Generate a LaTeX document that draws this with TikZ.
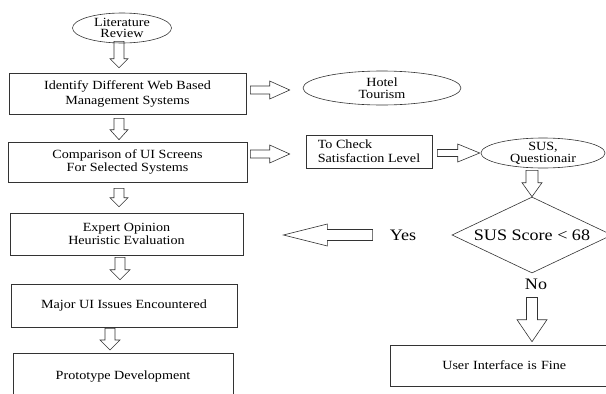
\documentclass[tikz,border=0pt]{standalone}
\usepackage{fontspec}
\setmainfont{Liberation Serif}[FakeStretch=1.13]
\usetikzlibrary{calc, shapes.geometric}

\tikzset{
  base/.style={draw=black!80, line width=0.6pt, text=black, align=center, inner sep=0pt,
    font=\fontsize{12.5}{13}\selectfont},
  procbox/.style={base, rectangle},
  oval/.style={base, ellipse},
  decision/.style={base, diamond, aspect=2.1, font=\fontsize{16}{18}\selectfont},
  answer/.style={text=black, inner sep=0pt, font=\fontsize{16}{18}\selectfont},
  arrowline/.style={draw=black!80, line width=0.6pt, line join=miter}
}

% hollow block arrow: start, end, shaft half width, head half width, head length
\newcommand{\blockarrow}[5]{%
  \coordinate (bas) at #1;
  \coordinate (bae) at #2;
  \coordinate (ban) at ($(bae)!#5pt!(bas)$);
  \draw[arrowline] ($(bas)!#3pt!90:(bae)$) -- ($(ban)!#3pt!90:(bae)$) -- ($(ban)!#4pt!90:(bae)$)
    -- (bae) -- ($(ban)!#4pt!-90:(bae)$) -- ($(ban)!#3pt!-90:(bae)$) -- ($(bas)!#3pt!-90:(bae)$) -- cycle;
}

\begin{document}
\begin{tikzpicture}[x=1pt, y=-1pt]
\useasboundingbox (0,0) rectangle (606,394);
\clip (0,0) rectangle (606,394);
% Left column
\node[oval, minimum width=99, minimum height=30, font=\fontsize{12.5}{11}\selectfont] (lit) at (122,28) {Literature\\Review};
\node[procbox, minimum width=237, minimum height=41, font=\fontsize{12.5}{15}\selectfont] (box1) at (127.5,93.5) {Identify Different Web Based\\Management Systems};
\node[procbox, minimum width=239, minimum height=40] (box2) at (127.5,162) {Comparison of UI Screens\\For Selected Systems};
\node[procbox, minimum width=233, minimum height=42] (box3) at (126.5,234) {Expert Opinion\\Heuristic Evaluation};
\node[procbox, minimum width=226, minimum height=43] (box4) at (124,305.5) {Major UI Issues Encountered};
\node[procbox, minimum width=220, minimum height=46, anchor=north] (box5) at (123,353) {Prototype Development};
% Right side
\node[oval, minimum width=158, minimum height=34, font=\fontsize{12.5}{12}\selectfont] (hotel) at (382,88) {Hotel\\Tourism};
\node[procbox, minimum width=126, minimum height=33, align=left, font=\fontsize{12.5}{14}\selectfont] (check) at (369,151.5) {To Check\\Satisfaction Level};
\node[oval, minimum width=124, minimum height=30, inner sep=-2pt, font=\fontsize{12.5}{12}\selectfont] (sus) at (543,153) {SUS,\\Questionair};
\node[decision, minimum width=160, minimum height=76] (score) at (532,235) {SUS Score < 68};
\node[answer] (yes) at (403,235) {Yes};
\node[answer] (no) at (536,284) {No};
\node[procbox, anchor=west, minimum height=41, text width=190pt, inner xsep=52pt, align=left] (fine) at (390,365.5) {User Interface is Fine};
% Block arrows down the left column
\blockarrow{([shift={(-3,-2)}]lit.south)}{([shift={(-8.5,-5)}]box1.north)}{5}{9}{9}
\blockarrow{([shift={(-8.5,4)}]box1.south)}{([shift={(-8.5,-2)}]box2.north)}{5}{9}{10}
\blockarrow{([shift={(-8.5,6)}]box2.south)}{([shift={(-7.5,-6)}]box3.north)}{5}{9}{9}
\blockarrow{([shift={(-6.5,2)}]box3.south)}{([shift={(-4,-4)}]box4.north)}{5}{10}{10}
\blockarrow{([shift={(-14,1)}]box4.south)}{([shift={(-13,-3)}]box5.north)}{5}{10}{10}
% Block arrows to the right
\blockarrow{([shift={(4,-3.5)}]box1.east)}{([shift={(-13,2)}]hotel.west)}{4}{9}{20}
\blockarrow{([shift={(3,-8)}]box2.east)}{([shift={(-16,2.5)}]check.west)}{4}{9}{20}
\blockarrow{([shift={(5,1.5)}]check.east)}{([shift={(-1,0)}]sus.west)}{3.5}{9}{22}
\blockarrow{([shift={(-11,2)}]sus.south)}{(score.north)}{6}{10}{14}
% Decision outcomes
\blockarrow{([shift={(-17,0)}]yes.west)}{([shift={(40,1)}]box3.east)}{5.5}{11}{44}
\blockarrow{([shift={(-4,8)}]no.south)}{([shift={(142,-3)}]fine.north west)}{5.5}{15}{22}
\end{tikzpicture}
\end{document}
